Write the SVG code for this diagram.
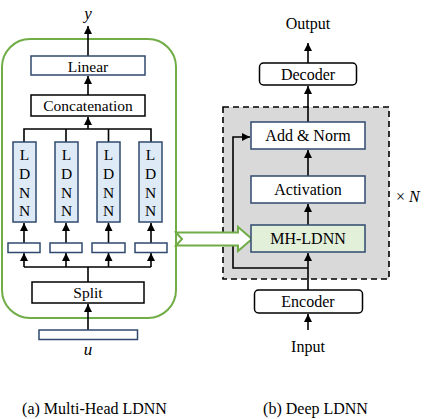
<svg xmlns="http://www.w3.org/2000/svg" width="429" height="419" viewBox="0 0 429 419" font-family="'Liberation Serif', 'Times New Roman', Tinos, serif">
<style>
  text { fill: #000; text-anchor: middle; }
  .lbl { font-size: 15.5px; }
  .rlbl { font-size: 16px; }
  .it { font-style: italic; }
  .navy { fill: #fff; stroke: #2F4A6E; stroke-width: 1.5; }
  .blk { fill: #fff; stroke: #000; stroke-width: 1.5; }
  .ldnn { fill: #DEEBF7; stroke: #2F4A6E; stroke-width: 1.5; }
  .conn { fill: none; stroke: #000; stroke-width: 1.6; }
</style>
<defs>
  <marker id="ah" viewBox="0 0 8 8" refX="8" refY="4" markerWidth="8" markerHeight="8" markerUnits="userSpaceOnUse" orient="auto">
    <path d="M0,0 L8,4 L0,8 z" fill="#000"/>
  </marker>
</defs>

<!-- Right: dashed repeat block -->
<rect id="repeat-block" x="223" y="107" width="166" height="172" fill="#D9D9D9" stroke="#000" stroke-width="1.6" stroke-dasharray="6,4"/>

<!-- Left: green outlined multi-head container -->
<rect id="mh-container" x="2" y="39" width="174" height="279" rx="28" ry="28" fill="#fff" stroke="#70AD47" stroke-width="2"/>

<g id="connectors">
  <!-- left -->
  <line class="conn" x1="88" y1="56" x2="88" y2="26" marker-end="url(#ah)"/>
  <line class="conn" x1="88" y1="95" x2="88" y2="76" marker-end="url(#ah)"/>
  <path class="conn" d="M24,142 V129 H151 V142 M66,142 V129 M108.5,142 V129"/>
  <line class="conn" x1="88" y1="129" x2="88" y2="117" marker-end="url(#ah)"/>
  <line class="conn" x1="24" y1="243" x2="24" y2="223" marker-end="url(#ah)"/>
  <line class="conn" x1="66" y1="243" x2="66" y2="223" marker-end="url(#ah)"/>
  <line class="conn" x1="108.5" y1="243" x2="108.5" y2="223" marker-end="url(#ah)"/>
  <line class="conn" x1="151" y1="243" x2="151" y2="223" marker-end="url(#ah)"/>
  <path class="conn" d="M24,267 H151 M88,282 V267"/>
  <line class="conn" x1="24" y1="267" x2="24" y2="253" marker-end="url(#ah)"/>
  <line class="conn" x1="66" y1="267" x2="66" y2="253" marker-end="url(#ah)"/>
  <line class="conn" x1="108.5" y1="267" x2="108.5" y2="253" marker-end="url(#ah)"/>
  <line class="conn" x1="151" y1="267" x2="151" y2="253" marker-end="url(#ah)"/>
  <line class="conn" x1="88" y1="330" x2="88" y2="304" marker-end="url(#ah)"/>
  <!-- right -->
  <line class="conn" x1="308" y1="63" x2="308" y2="43" marker-end="url(#ah)"/>
  <line class="conn" x1="308" y1="122" x2="308" y2="86" marker-end="url(#ah)"/>
  <line class="conn" x1="308" y1="176" x2="308" y2="150" marker-end="url(#ah)"/>
  <line class="conn" x1="308" y1="225" x2="308" y2="204" marker-end="url(#ah)"/>
  <line class="conn" x1="308" y1="290" x2="308" y2="253" marker-end="url(#ah)"/>
  <path class="conn" d="M308,268 H233 V137 H250" marker-end="url(#ah)"/>
  <line class="conn" x1="308" y1="330" x2="308" y2="314" marker-end="url(#ah)"/>
</g>

<!-- Left nodes -->
<text id="y-label" class="it" x="88" y="19" style="font-size:17px">y</text>
<g id="linear"><rect class="navy" x="31" y="56" width="114" height="19"/><text class="lbl" x="88" y="71.5">Linear</text></g>
<g id="concatenation"><rect class="blk" x="31" y="95" width="114" height="21"/><text class="lbl" x="88" y="111">Concatenation</text></g>
<g id="ldnn1"><rect class="ldnn" x="13" y="142" width="23" height="80"/><text class="lbl" x="24.5" y="160">L</text><text class="lbl" x="24.5" y="179">D</text><text class="lbl" x="24.5" y="198">N</text><text class="lbl" x="24.5" y="216">N</text></g>
<g id="ldnn2"><rect class="ldnn" x="55" y="142" width="23" height="80"/><text class="lbl" x="66.5" y="160">L</text><text class="lbl" x="66.5" y="179">D</text><text class="lbl" x="66.5" y="198">N</text><text class="lbl" x="66.5" y="216">N</text></g>
<g id="ldnn3"><rect class="ldnn" x="97" y="142" width="23" height="80"/><text class="lbl" x="108.5" y="160">L</text><text class="lbl" x="108.5" y="179">D</text><text class="lbl" x="108.5" y="198">N</text><text class="lbl" x="108.5" y="216">N</text></g>
<g id="ldnn4"><rect class="ldnn" x="139" y="142" width="23" height="80"/><text class="lbl" x="150.5" y="160">L</text><text class="lbl" x="150.5" y="179">D</text><text class="lbl" x="150.5" y="198">N</text><text class="lbl" x="150.5" y="216">N</text></g>
<g id="head1"><rect class="navy" x="8" y="243" width="32" height="9.5"/></g>
<g id="head2"><rect class="navy" x="50" y="243" width="32" height="9.5"/></g>
<g id="head3"><rect class="navy" x="92" y="243" width="33" height="9.5"/></g>
<g id="head4"><rect class="navy" x="135" y="243" width="32" height="9.5"/></g>
<g id="split"><rect class="blk" x="32" y="282" width="112" height="21"/><text class="lbl" x="88" y="298">Split</text></g>
<g id="u-input"><rect class="navy" x="39" y="330" width="98.5" height="9.5"/><text class="it" x="88" y="355" style="font-size:17px">u</text></g>
<text id="caption-a" class="rlbl" x="94.5" y="414">(a) Multi-Head LDNN</text>

<!-- Green hollow arrow -->
<polygon id="green-arrow" points="176,232.5 238,232.5 238,227 252,239 238,251 238,245.5 176,245.5 182,239" fill="#fff" stroke="#70AD47" stroke-width="2" stroke-linejoin="miter"/>

<!-- Right nodes -->
<text id="output-label" class="rlbl" x="308" y="29">Output</text>
<g id="decoder"><rect class="blk" x="259.5" y="63" width="97" height="22" rx="4" ry="4"/><text class="rlbl" x="308" y="80">Decoder</text></g>
<g id="add-norm"><rect class="navy" x="251" y="122" width="114" height="27"/><text class="rlbl" x="308" y="141">Add &amp; Norm</text></g>
<g id="activation"><rect class="navy" x="251" y="176" width="114" height="27"/><text class="rlbl" x="308" y="195">Activation</text></g>
<g id="mh-ldnn"><rect x="251" y="225" width="114" height="27" fill="#E2EFD9" stroke="#2F4A6E" stroke-width="1.5"/><text class="rlbl" x="308" y="244">MH-LDNN</text></g>
<text id="times-n" x="396" y="202" style="font-size:16px;text-anchor:start">× <tspan font-style="italic">N</tspan></text>
<g id="encoder"><rect class="blk" x="254.5" y="290" width="108" height="23" rx="4" ry="4"/><text class="rlbl" x="308" y="307">Encoder</text></g>
<text id="input-label" class="rlbl" x="308" y="352">Input</text>
<text id="caption-b" class="rlbl" x="315.5" y="414">(b) Deep LDNN</text>
</svg>
